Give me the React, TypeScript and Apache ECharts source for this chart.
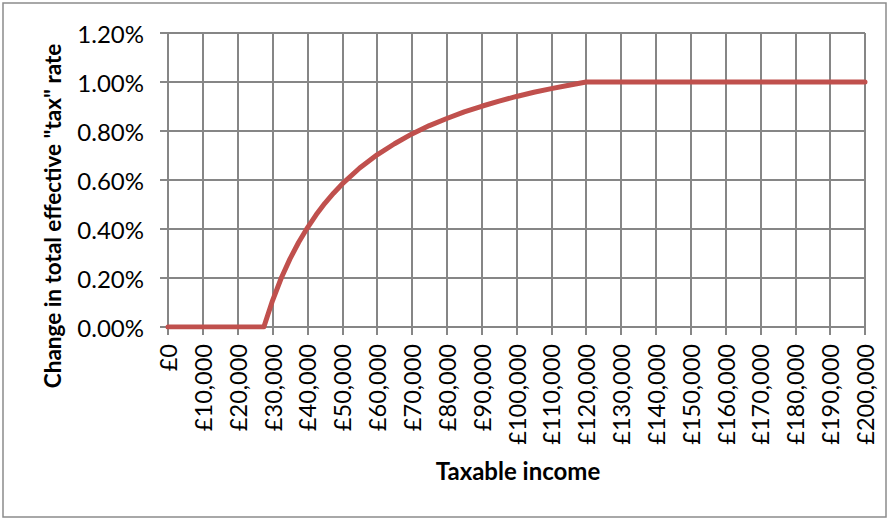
import React, { useEffect, useRef } from "react";
import * as echarts from "echarts";

const incomes = [0, 27500, 30000, 32500, 35000, 37500, 40000, 42500, 45000, 47500, 50000, 55000, 60000, 65000, 70000, 75000, 80000, 85000, 90000, 95000, 100000, 105000, 110000, 115000, 120000, 200000];
const rateChange = [0, 0, 0.00108, 0.002, 0.00278, 0.00346, 0.00405, 0.00458, 0.00505, 0.00546, 0.00584, 0.00649, 0.00703, 0.00748, 0.00788, 0.00822, 0.00851, 0.00878, 0.00901, 0.00922, 0.00941, 0.00958, 0.00973, 0.00987, 0.01, 0.01];
const yAxisTitle = 'Change in total effective "tax" rate';
const xAxisTitle = "Taxable income";

const FONT = "Lato";

export default function App() {
  const ref = useRef<HTMLDivElement>(null);
  useEffect(() => {
    if (!ref.current) return;
    const chart = echarts.init(ref.current, null, { renderer: "svg" });
    const data = incomes.map((x, i) => [x, rateChange[i]]);
    chart.setOption({
      animation: false,
      backgroundColor: "#ffffff",
      grid: { left: 168, right: 25, top: 33, bottom: 193, containLabel: false },
      xAxis: {
        type: "value",
        min: 0,
        max: 200000,
        interval: 10000,
        axisLine: { show: true, lineStyle: { color: "#868686", width: 2 } },
        axisTick: { show: true, length: 8, lineStyle: { color: "#868686", width: 2 } },
        splitLine: { show: true, lineStyle: { color: "#868686", width: 2 } },
        axisLabel: {
          rotate: 90,
          margin: 17,
          color: "#000",
          fontFamily: FONT,
          fontSize: 23.5,
          formatter: (v: number) => "£" + v.toLocaleString("en-GB"),
        },
      },
      yAxis: {
        type: "value",
        min: 0,
        max: 0.012,
        interval: 0.002,
        axisLine: { show: true, lineStyle: { color: "#868686", width: 2 } },
        axisTick: { show: true, length: 8, lineStyle: { color: "#868686", width: 2 } },
        splitLine: { show: true, lineStyle: { color: "#868686", width: 2 } },
        axisLabel: {
          margin: 24,
          color: "#000",
          fontFamily: FONT,
          fontSize: 24,
          formatter: (v: number) => (v * 100).toFixed(2) + "%",
        },
      },
      series: [
        {
          type: "line",
          data,
          showSymbol: false,
          smooth: false,
          lineStyle: { color: "#c0504d", width: 5, cap: "round", join: "round" },
        },
      ],
      graphic: [
        {
          type: "rect",
          shape: { x: 3, y: 3, width: 883, height: 514 },
          style: { fill: "none", stroke: "#8c8c8c", lineWidth: 1.5 },
          silent: true,
        },
        {
          type: "text",
          x: 52,
          y: 216,
          rotation: Math.PI / 2,
          style: {
            text: yAxisTitle,
            fontFamily: FONT,
            fontSize: 22.5,
            fontWeight: "bold",
            fill: "#000",
            textAlign: "center",
            textVerticalAlign: "middle",
          },
        },
        {
          type: "text",
          x: 518,
          y: 470,
          style: {
            text: xAxisTitle,
            fontFamily: FONT,
            fontSize: 24,
            fontWeight: "bold",
            fill: "#000",
            textAlign: "center",
            textVerticalAlign: "middle",
          },
        },
      ],
    });
    return () => chart.dispose();
  }, []);
  return (
    <div
      ref={ref}
      style={{ position: "fixed", left: 0, top: 0, width: 890, height: 520 }}
    />
  );
}
